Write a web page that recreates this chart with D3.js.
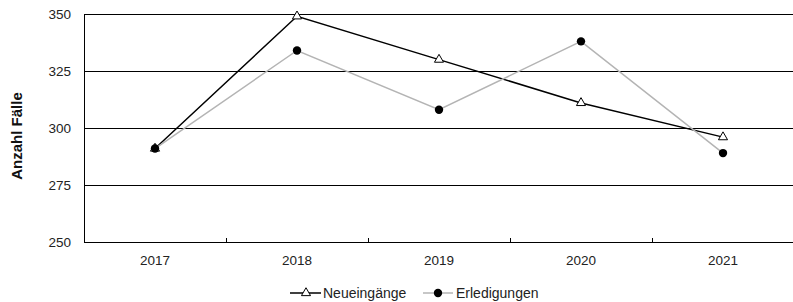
<!DOCTYPE html>
<html>
<head>
<meta charset="utf-8">
<script src="https://cdn.jsdelivr.net/npm/d3@7"></script>
<style>
  body { margin: 0; background: #fff; }
  svg { display: block; font-family: "Liberation Sans", Arial, sans-serif; }
</style>
</head>
<body>
<svg id="chart" width="793" height="302"></svg>
<script>
// Data
const years = ['2017', '2018', '2019', '2020', '2021'];
const neueingaenge = [291, 349, 330, 311, 296];
const erledigungen = [291, 334, 308, 338, 289];
const yTicks = [250, 275, 300, 325, 350];

const svg = d3.select('#chart');
const margin = { top: 14, right: -1, bottom: 60, left: 84 };
const W = 793, H = 302;

const x = d3.scaleBand().domain(years).range([margin.left, W - margin.right]);
const y = d3.scaleLinear().domain([250, 350]).range([H - margin.bottom, margin.top]);

// Gridlines
svg.append('g')
  .selectAll('line')
  .data(yTicks)
  .join('line')
  .attr('x1', margin.left).attr('x2', W)
  .attr('y1', d => y(d) + 0.5).attr('y2', d => y(d) + 0.5)
  .attr('stroke', '#000').attr('stroke-width', 1);

// Y axis line
svg.append('line')
  .attr('x1', margin.left + 0.5).attr('x2', margin.left + 0.5)
  .attr('y1', y(350)).attr('y2', y(250) + 1)
  .attr('stroke', '#000');

// Y tick labels
svg.append('g')
  .selectAll('text')
  .data(yTicks)
  .join('text')
  .attr('x', 71).attr('y', d => y(d) + 0.5)
  .attr('text-anchor', 'end')
  .attr('dominant-baseline', 'central')
  .attr('font-size', 13.5).attr('fill', '#222')
  .text(d => d);

// X category separators (inner ticks)
const seps = years.slice(1).map(d => x(d));
svg.append('g')
  .selectAll('line')
  .data(seps)
  .join('line')
  .attr('x1', d => Math.round(d) + 0.5).attr('x2', d => Math.round(d) + 0.5)
  .attr('y1', y(250) - 4).attr('y2', y(250))
  .attr('stroke', '#000');

// X labels
svg.append('g')
  .selectAll('text')
  .data(years)
  .join('text')
  .attr('x', d => x(d) + x.bandwidth() / 2)
  .attr('y', y(250) + 23)
  .attr('text-anchor', 'middle')
  .attr('font-size', 13.5).attr('fill', '#222')
  .text(d => d);

// Y title
svg.append('text')
  .attr('transform', 'translate(22,136) rotate(-90)')
  .attr('text-anchor', 'middle')
  .attr('font-size', 15).attr('font-weight', 'bold').attr('fill', '#111')
  .text('Anzahl Fälle');

const cx = (d, i) => x(years[i]) + x.bandwidth() / 2;
const line = d3.line().x(cx).y(d => y(d));
const tri = d3.symbol().type(d3.symbolTriangle).size(36);

// Neueingänge
svg.append('path').datum(neueingaenge)
  .attr('d', line).attr('fill', 'none')
  .attr('stroke', '#000').attr('stroke-width', 1.5);
svg.append('g').selectAll('path')
  .data(neueingaenge).join('path')
  .attr('d', tri)
  .attr('transform', (d, i) => `translate(${cx(d, i)},${y(d)})`)
  .attr('fill', '#fff').attr('stroke', '#000').attr('stroke-width', 1);

// Erledigungen
svg.append('path').datum(erledigungen)
  .attr('d', line).attr('fill', 'none')
  .attr('stroke', '#b4b4b4').attr('stroke-width', 1.5);
svg.append('g').selectAll('circle')
  .data(erledigungen).join('circle')
  .attr('cx', cx).attr('cy', d => y(d))
  .attr('r', 4.2).attr('fill', '#000');

// Legend
const ly = 293;
const lg = svg.append('g');
lg.append('line').attr('x1', 290).attr('x2', 321).attr('y1', ly).attr('y2', ly)
  .attr('stroke', '#000').attr('stroke-width', 1.5);
lg.append('path').attr('d', tri).attr('transform', `translate(306,${ly})`)
  .attr('fill', '#fff').attr('stroke', '#000');
lg.append('text').attr('x', 323).attr('y', ly).attr('dominant-baseline', 'central')
  .attr('font-size', 14).attr('fill', '#222').text('Neueingänge');

lg.append('line').attr('x1', 423).attr('x2', 453).attr('y1', ly).attr('y2', ly)
  .attr('stroke', '#b4b4b4').attr('stroke-width', 1.5);
lg.append('circle').attr('cx', 438).attr('cy', ly).attr('r', 4.2).attr('fill', '#000');
lg.append('text').attr('x', 456).attr('y', ly).attr('dominant-baseline', 'central')
  .attr('font-size', 14).attr('fill', '#222').text('Erledigungen');
</script>
</body>
</html>
